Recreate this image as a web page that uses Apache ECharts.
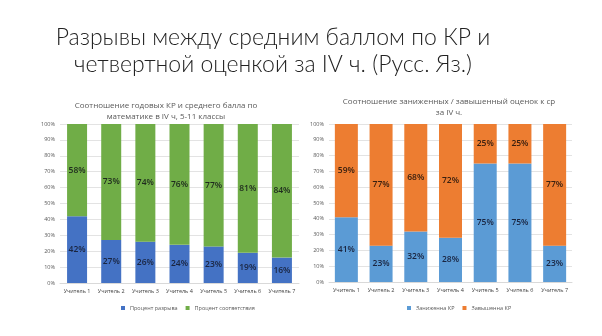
<!DOCTYPE html>
<html><head><meta charset="utf-8">
<script src="https://cdn.jsdelivr.net/npm/echarts@6/dist/echarts.min.js"></script>
<style>html,body{margin:0;padding:0;background:#fff}#c{width:602px;height:336px}</style>
</head><body><div id="c"></div>
<script>
const categories = ['Учитель 1','Учитель 2','Учитель 3','Учитель 4','Учитель 5','Учитель 6','Учитель 7'];
const gapPct = [42, 27, 26, 24, 23, 19, 16];
const matchPct = [58, 73, 74, 76, 77, 81, 84];
const lowPct = [41, 23, 32, 28, 75, 75, 23];
const highPct = [59, 77, 68, 72, 25, 25, 77];
const yTicks = [0,10,20,30,40,50,60,70,80,90,100];

const chart = echarts.init(document.getElementById('c'), null, {renderer:'canvas'});
const font = 'Open Sans, Liberation Sans, sans-serif';
function xAx(i){return {type:'category',gridIndex:i,data:categories,
  axisLine:{show:true,lineStyle:{color:'#d9d9d9'}},axisTick:{show:false},
  axisLabel:{fontSize:5.5,color:'#404040',fontFamily:font,margin:5,interval:0}};}
function yAx(i){return {type:'value',gridIndex:i,min:yTicks[0],max:yTicks[yTicks.length-1],interval:10,
  axisLabel:{fontSize:5.5,color:'#595959',fontFamily:font,formatter:v=>v+'%',margin:5},
  splitLine:{lineStyle:{color:'#e3e3e3',width:1}},axisLine:{show:false},axisTick:{show:false}};}
function lbl(){return {show:true,position:'inside',fontSize:8.5,fontWeight:600,color:'#1e2a1e',fontFamily:font,formatter:p=>p.value+'%'};}
chart.setOption({
  animation:false,
  title:[
    {text:'Разрывы между средним баллом по КР и\nчетвертной оценкой за IV ч. (Русс. Яз.)',left:268,top:19,textAlign:'center',
      textStyle:{fontSize:23,fontWeight:300,color:'#222',fontFamily:'Lato, sans-serif',lineHeight:27}},
    {text:'Соотношение годовых КР и среднего балла по\nматематике в IV ч, 5-11 классы',left:161,top:95,textAlign:'center',
      textStyle:{fontSize:8,fontWeight:'normal',color:'#595959',fontFamily:font,lineHeight:11}},
    {text:'Соотношение заниженных / завышенный оценок к ср\nза IV ч.',left:444,top:91,textAlign:'center',
      textStyle:{fontSize:8,fontWeight:'normal',color:'#595959',fontFamily:font,lineHeight:11}}
  ],
  legend:[
    {data:['Процент разрыва','Процент соответствия'],left:116,top:300,itemWidth:4,itemHeight:4,itemGap:8,
      icon:'rect',textStyle:{fontSize:5.5,color:'#595959',fontFamily:font}},
    {data:['Заниженна КР','Завышенна КР'],left:402,top:300,itemWidth:4,itemHeight:4,itemGap:8,
      icon:'rect',textStyle:{fontSize:5.5,color:'#595959',fontFamily:font}}
  ],
  grid:[
    {left:60,top:124,width:239,height:159},
    {left:329,top:124,width:243,height:158}
  ],
  xAxis:[xAx(0),xAx(1)],
  yAxis:[yAx(0),yAx(1)],
  series:[
    {name:'Процент разрыва',type:'bar',stack:'a',xAxisIndex:0,yAxisIndex:0,data:gapPct,barWidth:20,
      itemStyle:{color:'#4472C4'},label:Object.assign(lbl(),{color:'#1a2540'})},
    {name:'Процент соответствия',type:'bar',stack:'a',xAxisIndex:0,yAxisIndex:0,data:matchPct,barWidth:20,
      itemStyle:{color:'#70AD47'},label:lbl()},
    {name:'Заниженна КР',type:'bar',stack:'b',xAxisIndex:1,yAxisIndex:1,data:lowPct,barWidth:23,
      itemStyle:{color:'#5B9BD5'},label:Object.assign(lbl(),{color:'#1a2540'})},
    {name:'Завышенна КР',type:'bar',stack:'b',xAxisIndex:1,yAxisIndex:1,data:highPct,barWidth:23,
      itemStyle:{color:'#ED7D31'},label:Object.assign(lbl(),{color:'#3a2010'})}
  ]
});
</script></body></html>
